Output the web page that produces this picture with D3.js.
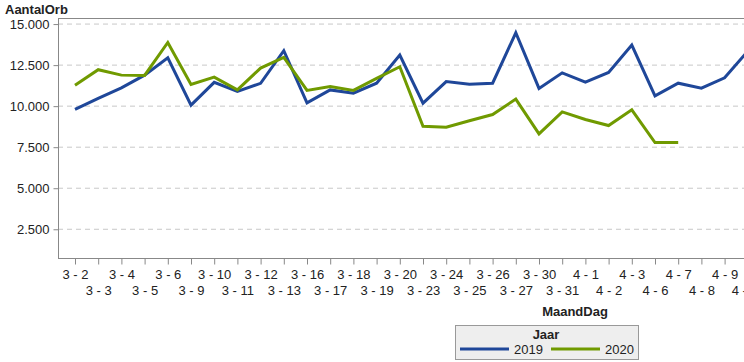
<!DOCTYPE html>
<html>
<head>
<meta charset="utf-8">
<script src="https://cdn.jsdelivr.net/npm/d3@7"></script>
<style>
  html, body { margin: 0; padding: 0; background: #fff; }
  svg { display: block; font-family: "Liberation Sans", Arial, sans-serif; }
</style>
</head>
<body>
<svg id="chart" width="744" height="362"></svg>
<script>
// categories (MaandDag) — the last one is cut off by the window edge
const days = ["3 - 2","3 - 3","3 - 4","3 - 5","3 - 6","3 - 9","3 - 10","3 - 11","3 - 12","3 - 13",
  "3 - 16","3 - 17","3 - 18","3 - 19","3 - 20","3 - 23","3 - 24","3 - 25","3 - 26","3 - 27",
  "3 - 30","3 - 31","4 - 1","4 - 2","4 - 3","4 - 6","4 - 7","4 - 8","4 - 9","4 - 10"];

const y2019 = [9800, 10470, 11110, 11890, 12950, 10060, 11450, 10900, 11390, 13380,
  10200, 10990, 10790, 11400, 13110, 10180, 11500, 11340, 11400, 14470,
  11080, 12030, 11460, 12050, 13720, 10630, 11400, 11100, 11730, 13350];

const y2020 = [11280, 12220, 11890, 11870, 13880, 11320, 11770, 10990, 12320, 12970,
  10960, 11200, 10960, 11690, 12400, 8780, 8720, 9110, 9490, 10430,
  8310, 9650, 9190, 8820, 9780, 7780, 7780];

const yTicks = [2500, 5000, 7500, 10000, 12500, 15000];

const series = [
  { name: "2019", values: y2019, color: "#1f4799" },
  { name: "2020", values: y2020, color: "#709a00" }
];

const svg = d3.select("#chart");
const mLeft = 58, mTop = 18, mBottom = 258, mRight = 744;

const x = d3.scalePoint().domain(days).range([75, 75 + 23.2 * (days.length - 1)]);
const y = d3.scaleLinear().domain([750, 15370]).range([mBottom, mTop]);
const yFmt = v => d3.format(",")(v).replace(",", ".");

// grid
svg.append("g").selectAll("line").data(yTicks).join("line")
  .attr("x1", mLeft).attr("x2", mRight)
  .attr("y1", d => y(d)).attr("y2", d => y(d))
  .attr("stroke", "#c8c8c8").attr("stroke-dasharray", "5,4");

// frame
svg.append("line").attr("x1", mLeft).attr("x2", mRight).attr("y1", mTop + 0.5).attr("y2", mTop + 0.5)
  .attr("stroke", "#888");

// y axis
const yAxis = svg.append("g").attr("transform", `translate(${mLeft + 0.5},0)`)
  .call(d3.axisLeft(y).tickValues(yTicks).tickFormat(yFmt).tickSize(5).tickPadding(4));
yAxis.select(".domain").attr("stroke", "#888").attr("d", `M0,${mTop}V${mBottom}`);
yAxis.selectAll(".tick line").attr("stroke", "#888");
yAxis.selectAll("text").attr("font-size", 13).attr("fill", "#222")
  .attr("font-family", "Liberation Sans, Arial, sans-serif");

// x axis
const xAxis = svg.append("g").attr("transform", `translate(0,${mBottom + 0.5})`)
  .call(d3.axisBottom(x).tickSize(6).tickPadding(5));
xAxis.select(".domain").attr("stroke", "#888").attr("d", `M${mLeft},0H${mRight}`);
xAxis.selectAll(".tick line").attr("stroke", "#888");
xAxis.selectAll("text").attr("font-size", 13).attr("fill", "#222")
  .attr("font-family", "Liberation Sans, Arial, sans-serif")
  .attr("dy", (d, i) => i % 2 ? "1.95em" : "0.71em");

// lines
const line = d3.line().x((d, i) => x(days[i])).y(d => y(d));
svg.append("g").selectAll("path").data(series).join("path")
  .attr("d", d => line(d.values))
  .attr("fill", "none").attr("stroke", d => d.color)
  .attr("stroke-width", 3).attr("stroke-linejoin", "miter");

// titles
svg.append("text").attr("x", 5).attr("y", 14).attr("font-size", 13).attr("font-weight", 700)
  .attr("fill", "#222").text("AantalOrb");
svg.append("text").attr("x", 575).attr("y", 316).attr("text-anchor", "middle")
  .attr("font-size", 13).attr("font-weight", 700).attr("fill", "#222").text("MaandDag");

// legend
const lg = svg.append("g").attr("transform", "translate(455,325)");
lg.append("rect").attr("x", 0.5).attr("y", 0.5).attr("width", 183).attr("height", 34)
  .attr("fill", "#eeeeee").attr("stroke", "#999");
lg.append("text").attr("x", 91).attr("y", 14).attr("text-anchor", "middle")
  .attr("font-size", 13).attr("font-weight", 700).attr("fill", "#222").text("Jaar");
series.forEach((s, i) => {
  const ox = 5 + i * 91;
  lg.append("line").attr("x1", ox).attr("x2", ox + 49).attr("y1", 24).attr("y2", 24)
    .attr("stroke", s.color).attr("stroke-width", 3);
  lg.append("text").attr("x", ox + 54).attr("y", 29).attr("font-size", 13)
    .attr("fill", "#222").text(s.name);
});
</script>
</body>
</html>
